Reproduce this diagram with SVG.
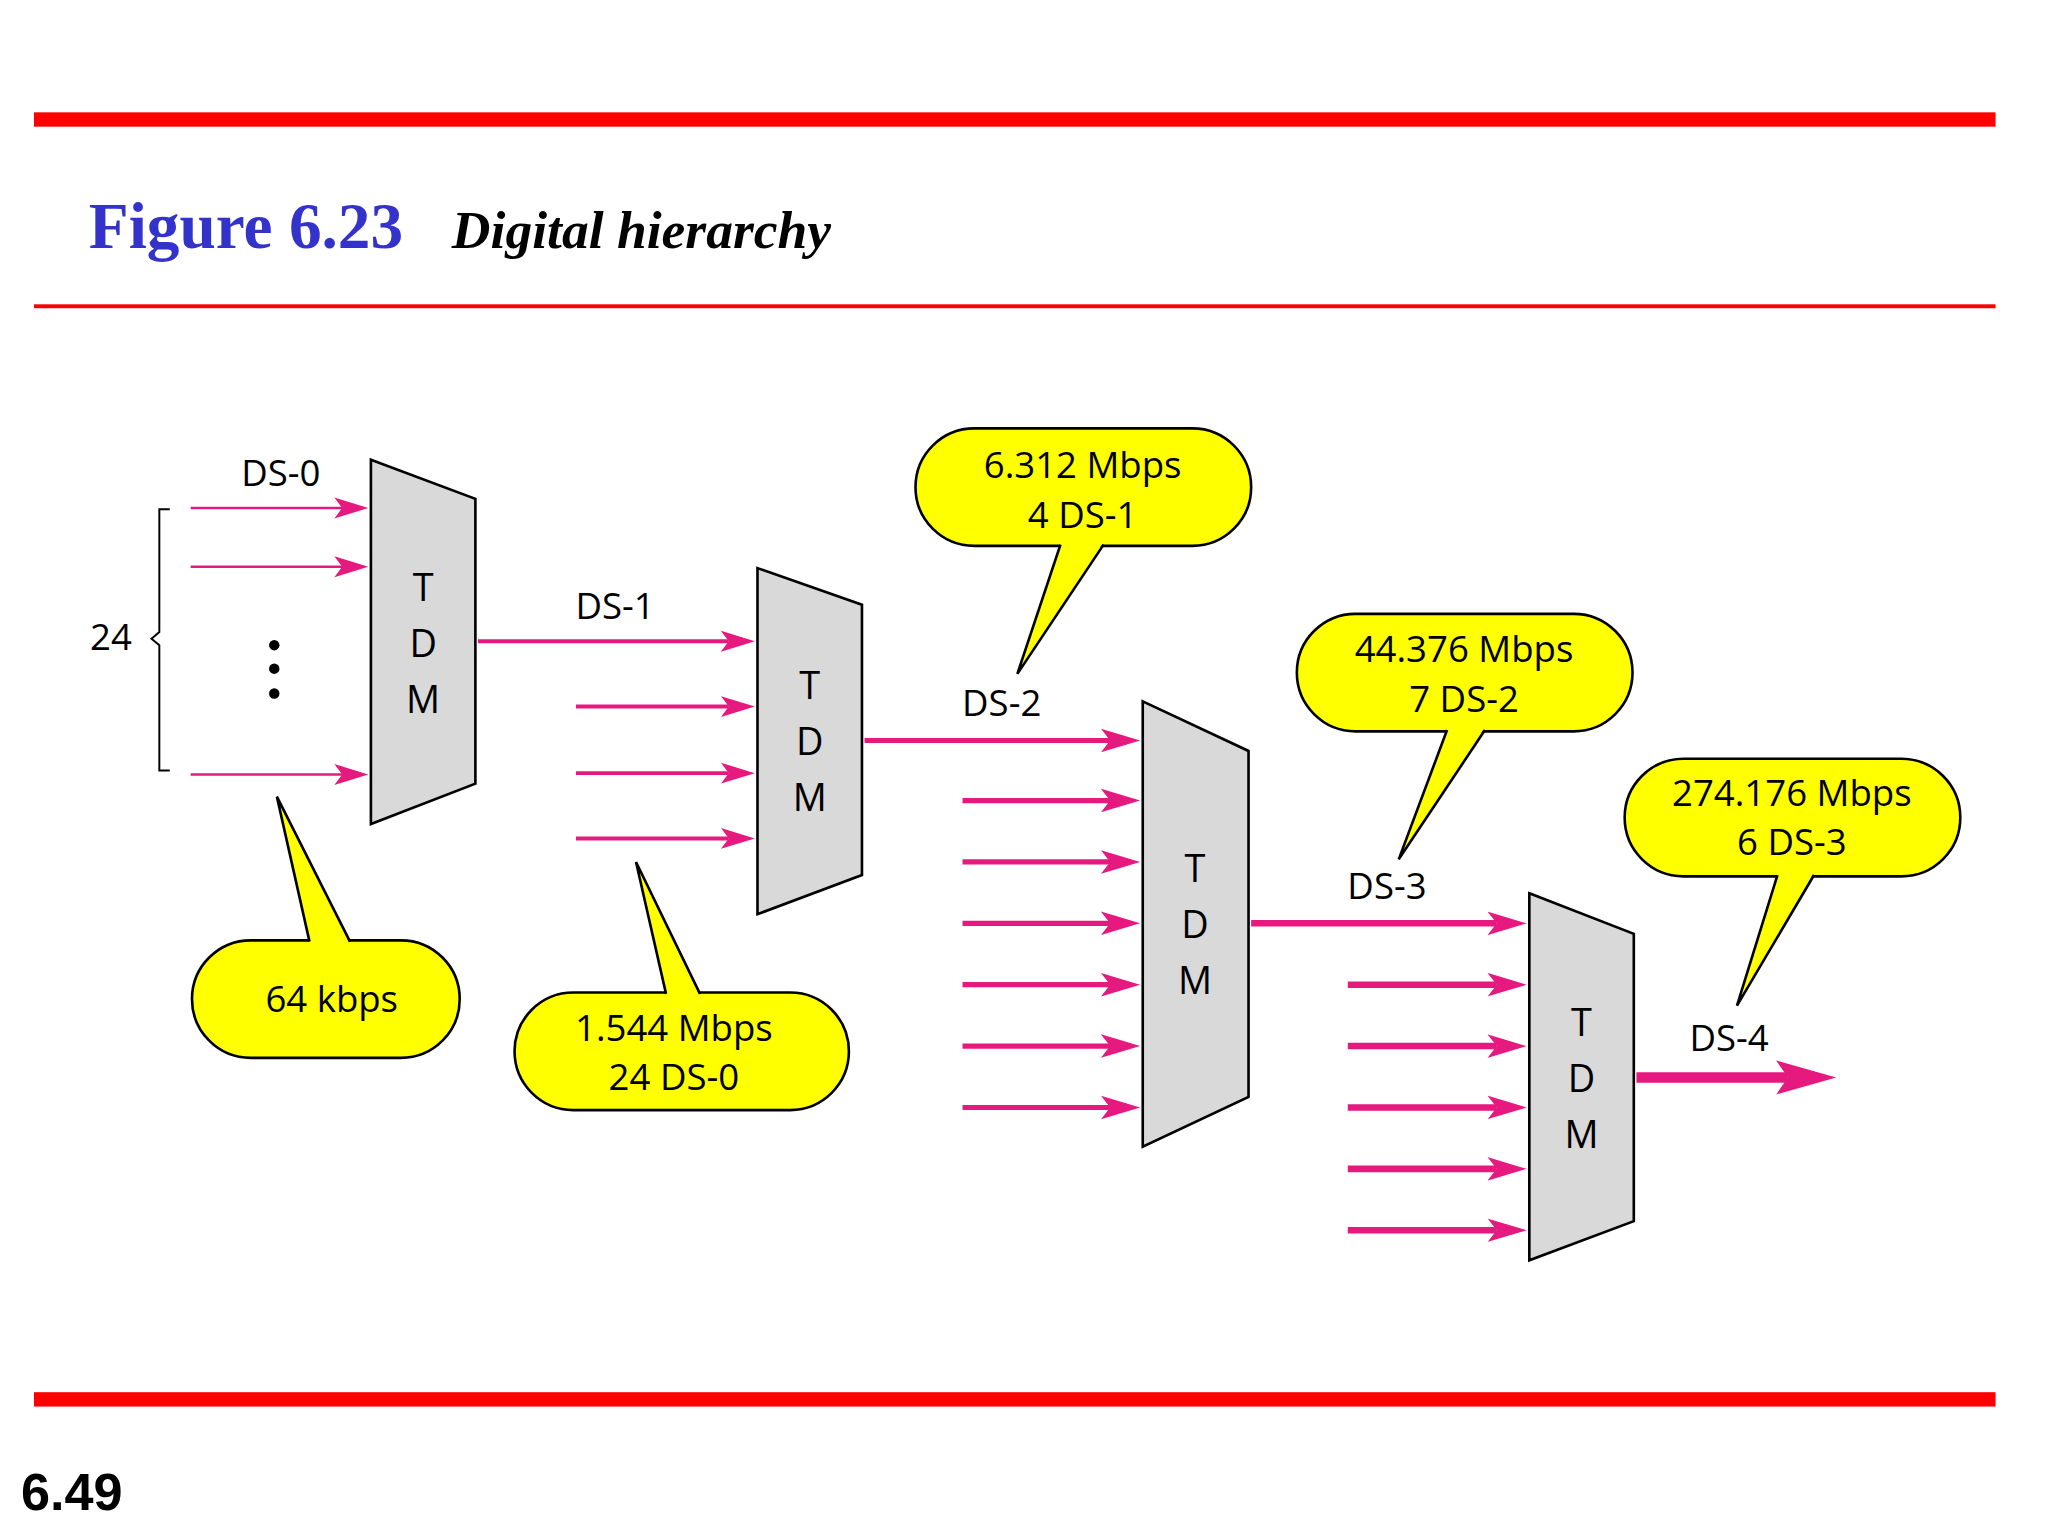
<svg xmlns="http://www.w3.org/2000/svg" width="2048" height="1536" viewBox="0 0 2048 1536">
<defs>
<style>
.bar{fill:#ff0000}
.tdm{fill:#d9d9d9;stroke:#000;stroke-width:2}
.tl{font-family:"Open Sans","Liberation Sans",sans-serif;font-size:29px;text-anchor:middle;fill:#000}
.lb{font-family:"Open Sans","Liberation Sans",sans-serif;font-size:28px;text-anchor:middle;fill:#000}
.ar{stroke:#e6197f;fill:none}
.cb{fill:#ffff00;stroke:#000;stroke-width:2}
.cp{fill:#ffff00;stroke:none}
.cs{fill:none;stroke:#000;stroke-width:2}
</style>
<marker id="m1" markerUnits="userSpaceOnUse" markerWidth="30" markerHeight="20" viewBox="0 -10 30 20" refX="6" refY="0" orient="auto"><path d="M0,-8 L26,0 L0,8 L6,0 z" fill="#e6197f"/></marker>
<marker id="m2" markerUnits="userSpaceOnUse" markerWidth="34" markerHeight="24" viewBox="0 -12 34 24" refX="7" refY="0" orient="auto"><path d="M0,-9 L30,0 L0,9 L7,0 z" fill="#e6197f"/></marker>
<marker id="m3" markerUnits="userSpaceOnUse" markerWidth="50" markerHeight="30" viewBox="0 -15 50 30" refX="9" refY="0" orient="auto"><path d="M0,-13 L46,0 L0,13 L9,0 z" fill="#e6197f"/></marker>
</defs>
<g transform="scale(1.306)">
<g id="frame">
<rect class="bar" x="26" y="86" width="1502" height="11"/>
<rect class="bar" x="26" y="233" width="1502" height="3"/>
<rect class="bar" x="26" y="1066" width="1502" height="11"/>
<text x="68" y="190" font-family="'Liberation Serif',serif" font-weight="bold" font-size="50" fill="#3333cc">Figure 6.23</text>
<text x="346" y="190" font-family="'Liberation Serif',serif" font-weight="bold" font-style="italic" font-size="41" fill="#000">Digital hierarchy</text>
<text x="16" y="1156" font-family="'Liberation Sans',sans-serif" font-weight="bold" font-size="40" fill="#000">6.49</text>
</g>
<g id="connectors">
<g stroke-width="2" class="ar">
<line x1="146" y1="389" x2="262" y2="389" marker-end="url(#m1)"/>
<line x1="146" y1="434" x2="262" y2="434" marker-end="url(#m1)"/>
<line x1="146" y1="593" x2="262" y2="593" marker-end="url(#m1)"/>
</g>
<g stroke-width="3" class="ar">
<line x1="366" y1="491" x2="558" y2="491" marker-end="url(#m1)"/>
<line x1="441" y1="541" x2="558" y2="541" marker-end="url(#m1)"/>
<line x1="441" y1="592" x2="558" y2="592" marker-end="url(#m1)"/>
<line x1="441" y1="642" x2="558" y2="642" marker-end="url(#m1)"/>
</g>
<g stroke-width="4" class="ar">
<line x1="662" y1="567" x2="850" y2="567" marker-end="url(#m2)"/>
<line x1="737" y1="613" x2="850" y2="613" marker-end="url(#m2)"/>
<line x1="737" y1="660" x2="850" y2="660" marker-end="url(#m2)"/>
<line x1="737" y1="707" x2="850" y2="707" marker-end="url(#m2)"/>
<line x1="737" y1="754" x2="850" y2="754" marker-end="url(#m2)"/>
<line x1="737" y1="801" x2="850" y2="801" marker-end="url(#m2)"/>
<line x1="737" y1="848" x2="850" y2="848" marker-end="url(#m2)"/>
</g>
<g stroke-width="5" class="ar">
<line x1="958" y1="707" x2="1146" y2="707" marker-end="url(#m2)"/>
<line x1="1032" y1="754" x2="1146" y2="754" marker-end="url(#m2)"/>
<line x1="1032" y1="801" x2="1146" y2="801" marker-end="url(#m2)"/>
<line x1="1032" y1="848" x2="1146" y2="848" marker-end="url(#m2)"/>
<line x1="1032" y1="895" x2="1146" y2="895" marker-end="url(#m2)"/>
<line x1="1032" y1="942" x2="1146" y2="942" marker-end="url(#m2)"/>
</g>
<line class="ar" stroke-width="8" x1="1253" y1="825" x2="1369" y2="825" marker-end="url(#m3)"/>
</g>
<g id="inputs0">
<path d="M130,390 L122,390 L122,484 L116,489 L122,494 L122,590 L130,590" fill="none" stroke="#000" stroke-width="1.5"/>
<circle cx="210" cy="494" r="4"/><circle cx="210" cy="512" r="4"/><circle cx="210" cy="531" r="4"/>
<text class="lb" x="85" y="498">24</text>
</g>
<g id="labels">
<text class="lb" x="215" y="372">DS-0</text>
<text class="lb" x="471" y="474">DS-1</text>
<text class="lb" x="767" y="548">DS-2</text>
<text class="lb" x="1062" y="688">DS-3</text>
<text class="lb" x="1324" y="805">DS-4</text>
</g>
<g id="tdm1"><polygon class="tdm" points="284,352 364,382 364,600 284,631"/>
<text class="tl" x="324" y="460">T</text><text class="tl" x="324" y="503">D</text><text class="tl" x="324" y="546">M</text></g>
<g id="tdm2"><polygon class="tdm" points="580,435 660,463 660,670 580,700"/>
<text class="tl" x="620" y="535">T</text><text class="tl" x="620" y="578">D</text><text class="tl" x="620" y="621">M</text></g>
<g id="tdm3"><polygon class="tdm" points="875,537 956,575 956,840 875,878"/>
<text class="tl" x="915" y="675">T</text><text class="tl" x="915" y="718">D</text><text class="tl" x="915" y="761">M</text></g>
<g id="tdm4"><polygon class="tdm" points="1171,684 1251,715 1251,935 1171,965"/>
<text class="tl" x="1211" y="793">T</text><text class="tl" x="1211" y="836">D</text><text class="tl" x="1211" y="879">M</text></g>
<g id="callout64">
<rect class="cb" x="147" y="720" width="205" height="90" rx="45"/>
<polygon class="cp" points="237,723 212,610 268,723"/><polyline class="cs" points="237,721 212,610 268,721"/>
<text class="lb" x="254" y="775">64 kbps</text>
</g>
<g id="callout1544">
<rect class="cb" x="394" y="760" width="256" height="90" rx="45"/>
<polygon class="cp" points="510,763 487,660 536,763"/><polyline class="cs" points="510,761 487,660 536,761"/>
<text class="lb" x="516" y="797">1.544 Mbps</text><text class="lb" x="516" y="835">24 DS-0</text>
</g>
<g id="callout6312">
<rect class="cb" x="701" y="328" width="257" height="90" rx="45"/>
<polygon class="cp" points="812,415 779,516 845,415"/><polyline class="cs" points="812,417 779,516 845,417"/>
<text class="lb" x="829" y="366">6.312 Mbps</text><text class="lb" x="829" y="404">4 DS-1</text>
</g>
<g id="callout44376">
<rect class="cb" x="993" y="470" width="257" height="90" rx="45"/>
<polygon class="cp" points="1108,557 1071,658 1137,557"/><polyline class="cs" points="1108,559 1071,658 1137,559"/>
<text class="lb" x="1121" y="507">44.376 Mbps</text><text class="lb" x="1121" y="545">7 DS-2</text>
</g>
<g id="callout274176">
<rect class="cb" x="1244" y="581" width="257" height="90" rx="45"/>
<polygon class="cp" points="1361,668 1330,770 1389,668"/><polyline class="cs" points="1361,670 1330,770 1389,670"/>
<text class="lb" x="1372" y="617">274.176 Mbps</text><text class="lb" x="1372" y="655">6 DS-3</text>
</g>
</g>
</svg>
